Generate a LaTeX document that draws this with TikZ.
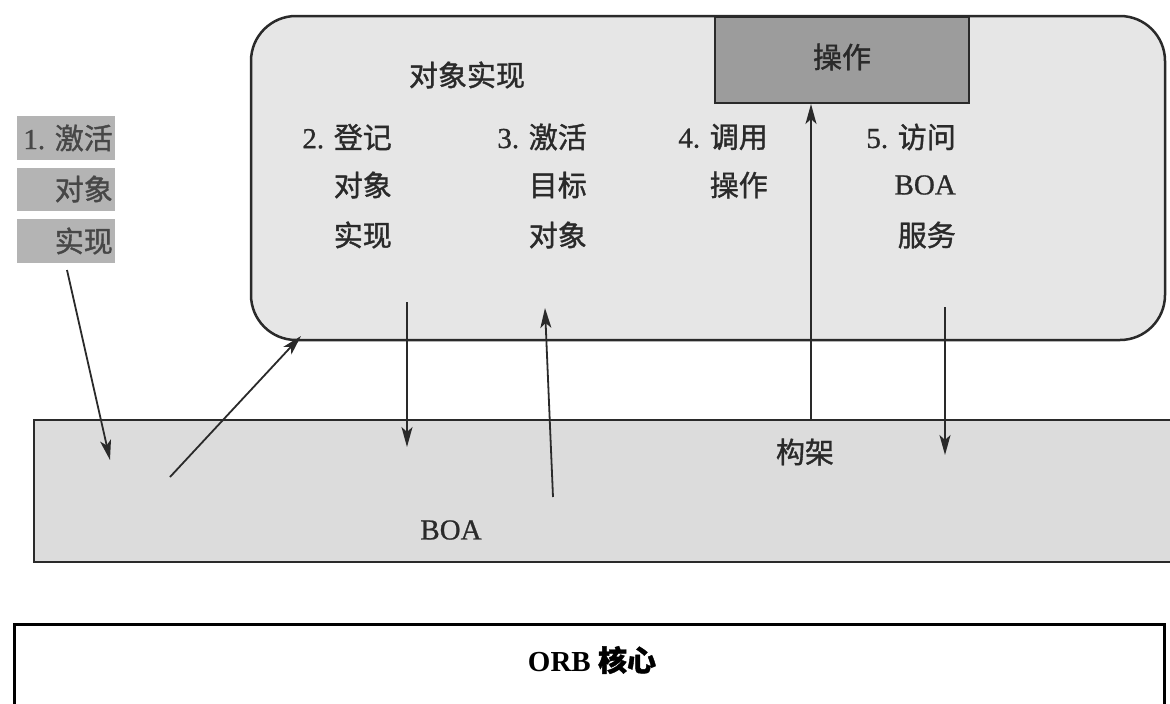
\documentclass[tikz,border=0pt]{standalone}
\usepackage{fontspec}
\setmainfont{Liberation Serif}
\newfontfamily\latn[FakeBold=0.8]{Liberation Serif}
\newfontfamily\cjk[FakeBold=1.2]{Noto Sans CJK SC}
\usetikzlibrary{arrows.meta}
\definecolor{implfill}{HTML}{E6E6E6}
\definecolor{barfill}{HTML}{DCDCDC}
\definecolor{opfill}{HTML}{9C9C9C}
\definecolor{tagfill}{HTML}{B4B4B4}
\definecolor{ink}{HTML}{2A2A2A}
\begin{document}
\begin{tikzpicture}[x=1pt,y=-1pt,
  txt/.style={font=\fontsize{29}{34}\selectfont\latn, text=ink, inner sep=0pt},
  rtxt/.style={txt, anchor=east},
  conn/.style={draw=ink, line width=1.8pt, -{Stealth[length=20pt,width=11pt,inset=5pt]}}
]
\useasboundingbox[fill=white] (0,0) rectangle (1170,704);

% object implementation frame
\node[draw=ink, line width=2.5pt, fill=implfill, rounded corners=45pt,
      minimum width=914pt, minimum height=324pt, inner sep=0pt] (impl) at (708,178) {};
\node[draw=ink, line width=2pt, fill=opfill, minimum width=254pt, minimum height=86pt,
      inner sep=0pt] (op) at (842,60) {};
\node[txt] (opl) at (842,57) {\cjk 操作};
\node[txt] (title) at (467,75) {\cjk 对象实现};

% step labels
\node[rtxt] (s2a) at (392,137) {2. {\cjk 登记}};
\node[rtxt] (s2b) at (392,185) {\cjk 对象};
\node[rtxt] (s2c) at (392,235) {\cjk 实现};
\node[rtxt] (s3a) at (587,137) {3. {\cjk 激活}};
\node[rtxt] (s3b) at (587,185) {\cjk 目标};
\node[rtxt] (s3c) at (587,235) {\cjk 对象};
\node[rtxt] (s4a) at (768,137) {4. {\cjk 调用}};
\node[rtxt] (s4b) at (768,185) {\cjk 操作};
\node[rtxt] (s5a) at (956,137) {5. {\cjk 访问}};
\node[rtxt] (s5b) at (956,185) {BOA};
\node[rtxt] (s5c) at (956,235) {\cjk 服务};

% left tags
\fill[tagfill] (17,116) rectangle (115,160);
\fill[tagfill] (17,168) rectangle (115,211);
\fill[tagfill] (17,219) rectangle (115,263);
\node[rtxt, text=black!72] (t1) at (113,138) {1. {\cjk 激活}};
\node[rtxt, text=black!72] (t2) at (113,189) {\cjk 对象};
\node[rtxt, text=black!72] (t3) at (113,241) {\cjk 实现};

% BOA bar
\fill[barfill] (34,420) rectangle (1175,562);
\draw[ink, line width=2.5pt] (1175,420) -- (34,420) -- (34,562) -- (1175,562);
\node[txt] (skel) at (805,452) {\cjk 构架};
\node[txt] (boa) at (451,530) {BOA};

% ORB core
\node[draw=black, line width=3pt, fill=white, minimum width=1150pt, minimum height=90pt,
      inner sep=0pt, anchor=north west] (orb) at (13,623) {};
\node[txt, text=black, font=\fontsize{29}{34}\selectfont\bfseries] (orbl) at (592,660) {ORB {\cjk\bfseries 核心}};

% connector endpoints
\coordinate (a1s) at (67,270);
\coordinate (a1e) at (110,460);
\coordinate (a2s) at (170,477);
\coordinate (a2e) at (301,336);
\coordinate (a3s) at (407,302);
\coordinate (a3e) at (407,447);
\coordinate (a4s) at (553,497);
\coordinate (a4e) at (545,308);
\coordinate (a5s) at (811,420);
\coordinate (a6s) at (945,307);
\coordinate (a6e) at (945,455);

\draw[conn] (a1s) -- (a1e);
\draw[conn] (a2s) -- (a2e);
\draw[conn] (a3s) -- (a3e);
\draw[conn] (a4s) -- (a4e);
\draw[conn] (a5s) -- (a5s |- op.south);
\draw[conn] (a6s) -- (a6e);
\end{tikzpicture}
\end{document}
